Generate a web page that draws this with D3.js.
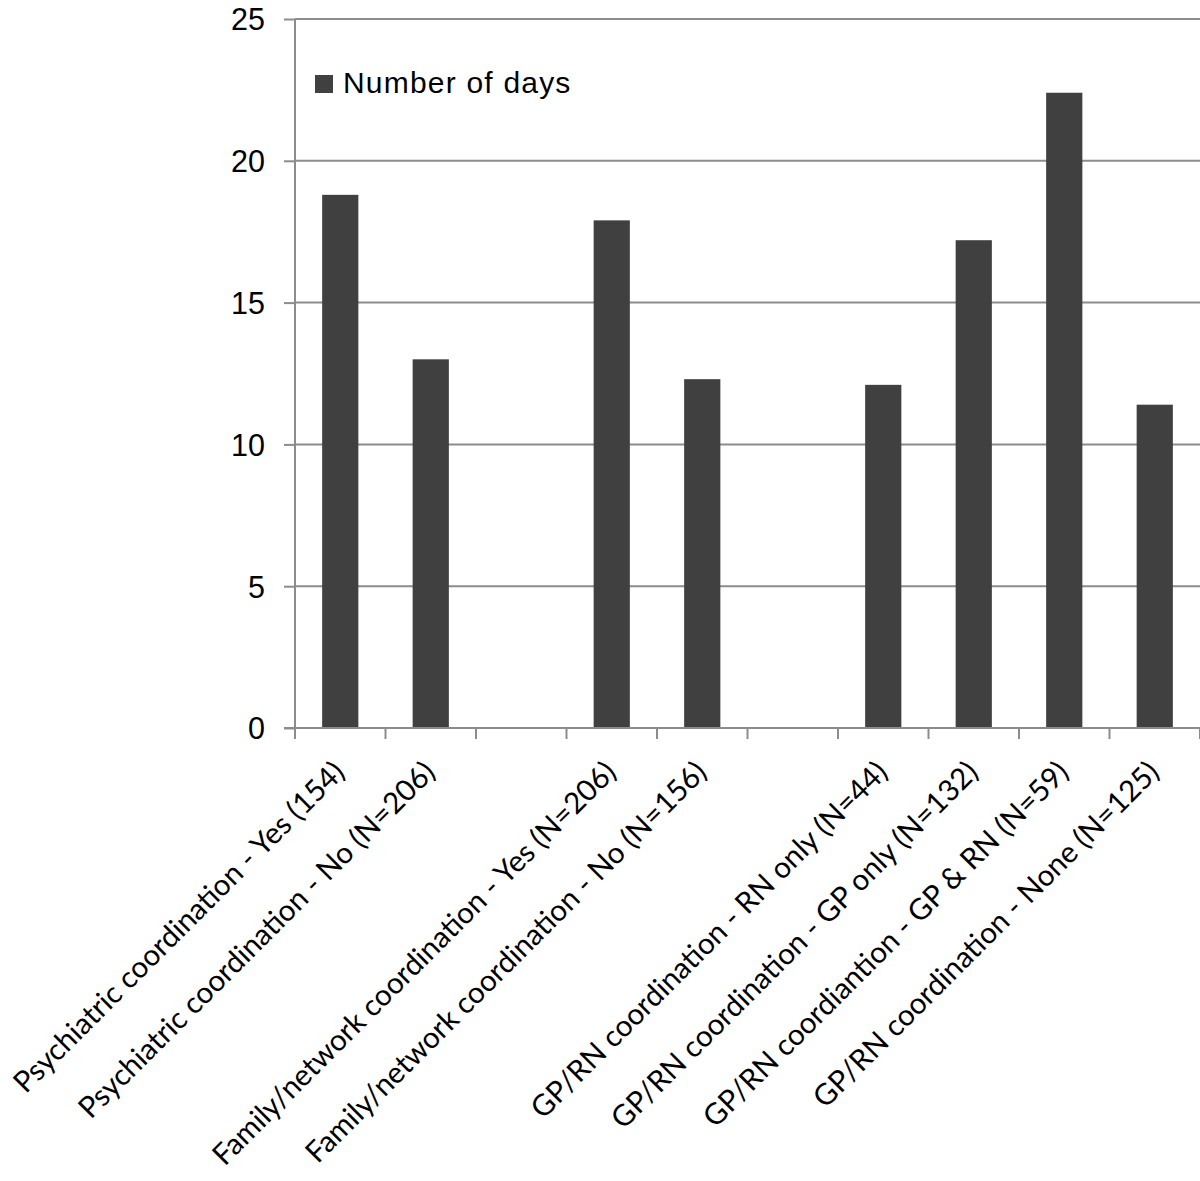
<!DOCTYPE html>
<html>
<head>
<meta charset="utf-8">
<script src="https://cdn.jsdelivr.net/npm/d3@7"></script>
<style>
  html, body { margin: 0; padding: 0; background: #fff; }
  svg { display: block; }
</style>
</head>
<body>
<svg id="chart" width="1200" height="1181"></svg>
<script>
const categories = [
  "Psychiatric coordination - Yes (154)",
  "Psychiatric coordination - No (N=206)",
  "",
  "Family/network coordination - Yes (N=206)",
  "Family/network coordination - No (N=156)",
  " ",
  "GP/RN coordination - RN only (N=44)",
  "GP/RN coordination - GP only (N=132)",
  "GP/RN coordiantion - GP & RN (N=59)",
  "GP/RN coordination - None (N=125)"
];
const values = [18.8, 13.0, null, 17.9, 12.3, null, 12.1, 17.2, 22.4, 11.4];
const yTicks = [0, 5, 10, 15, 20, 25];
const seriesName = "Number of days";

(function () {
const svg = d3.select("#chart");
const pL = 295, pR = 1200, pT = 19, pB = 728;

const x = d3.scaleBand().domain(categories).range([pL, pR]).paddingInner(0.6).paddingOuter(0.3);
const xSlot = d3.scaleBand().domain(categories).range([pL, pR]);
const y = d3.scaleLinear().domain([0, 25]).range([pB, pT]);

const gridColor = "#8c8c8c";

svg.append("g").selectAll("line").data(yTicks.filter(d => d > 0)).join("line")
  .attr("x1", pL).attr("x2", pR)
  .attr("y1", d => y(d)).attr("y2", d => y(d))
  .attr("stroke", gridColor).attr("stroke-width", 2);

const yAxis = svg.append("g").attr("transform", `translate(${pL},0)`)
  .call(d3.axisLeft(y).tickValues(yTicks).tickSize(11).tickPadding(19).tickFormat(d3.format("d")));
yAxis.select(".domain").attr("stroke", gridColor).attr("stroke-width", 2)
  .attr("d", `M0,${pT}V${pB + 11}`);
yAxis.selectAll(".tick line").attr("stroke", gridColor).attr("stroke-width", 2);
yAxis.selectAll(".tick text").attr("font-family", "Liberation Sans, Arial, sans-serif")
  .attr("font-size", 30.5).attr("fill", "#000").attr("dy", "0.36em");

svg.append("g").selectAll("rect").data(categories.map((c, i) => ({c, v: values[i]})).filter(d => d.v != null))
  .join("rect")
  .attr("x", d => x(d.c)).attr("width", x.bandwidth())
  .attr("y", d => y(d.v)).attr("height", d => y(0) - y(d.v))
  .attr("fill", "#404040");

const tickPos = categories.map(c => xSlot(c)).concat([pR]);
svg.append("line").attr("x1", pL - 11).attr("x2", pR).attr("y1", pB).attr("y2", pB)
  .attr("stroke", gridColor).attr("stroke-width", 2);
svg.append("g").selectAll("line").data(tickPos).join("line")
  .attr("x1", d => d).attr("x2", d => d).attr("y1", pB).attr("y2", pB + 11)
  .attr("stroke", gridColor).attr("stroke-width", 2);

svg.append("g").selectAll("text").data(categories.filter(c => c.trim() !== "")).join("text")
  .attr("transform", d => `translate(${xSlot(d) + xSlot.bandwidth() / 2 + 6},774) rotate(-45)`)
  .attr("text-anchor", "end")
  .attr("font-family", "Lato, sans-serif")
  .attr("font-size", 29.5)
  .attr("fill", "#000")
  .text(d => d);

svg.append("rect").attr("x", 315).attr("y", 75).attr("width", 18).attr("height", 18).attr("fill", "#404040");
svg.append("text").attr("x", 343).attr("y", 93).attr("font-family", "Liberation Sans, Arial, sans-serif")
  .attr("font-size", 30).attr("letter-spacing", 1.2).attr("fill", "#000").text(seriesName);
})();
</script>
</body>
</html>
